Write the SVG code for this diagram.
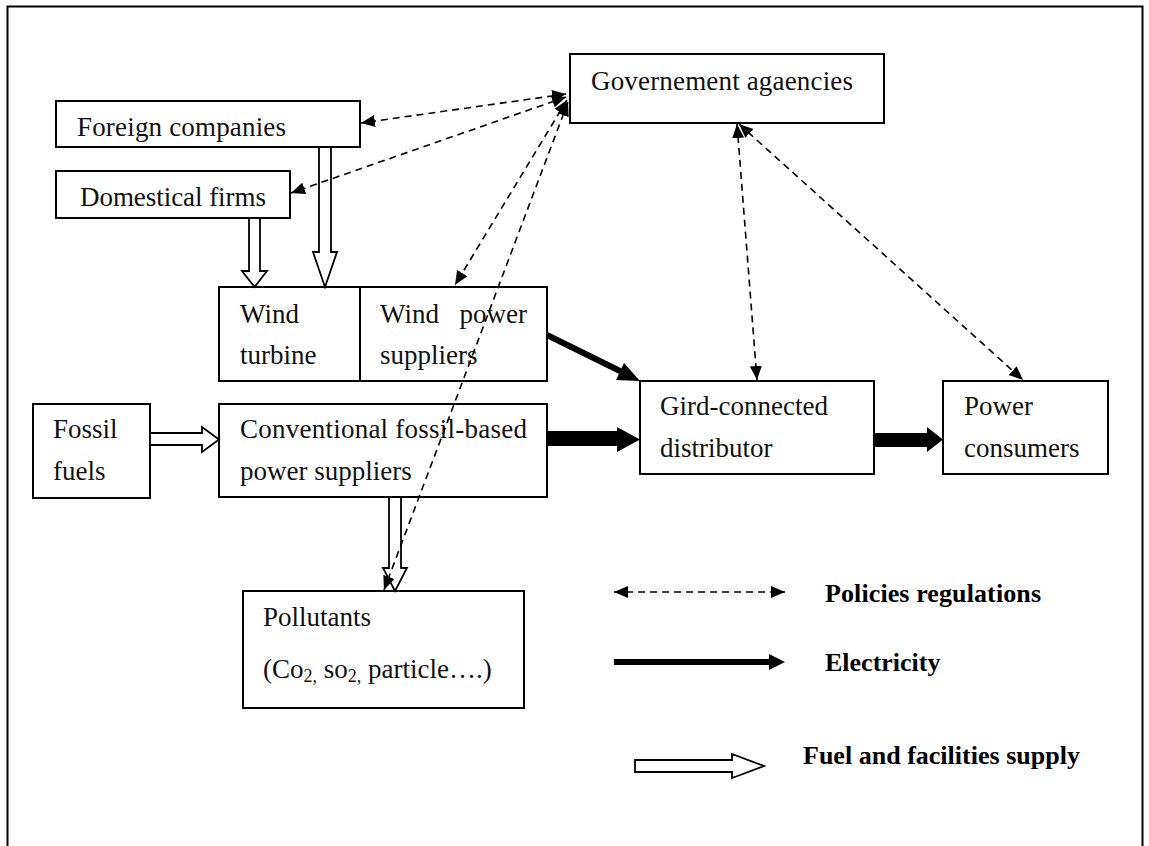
<svg xmlns="http://www.w3.org/2000/svg" width="1149" height="846" viewBox="0 0 1149 846">
  <style>
    .box { fill: #fff; stroke: #000; stroke-width: 2; }
    .lbl { font-family: "Liberation Serif", "Times New Roman", serif; font-size: 27px; fill: #111; }
    .key { font-family: "Liberation Serif", "Times New Roman", serif; font-size: 26px; font-weight: bold; fill: #000; }
    .policy { fill: none; stroke: #000; stroke-width: 1.6; stroke-dasharray: 7 5; }
    .supply { fill: #fff; stroke: #000; stroke-width: 1.8; stroke-linejoin: miter; }
    .power { fill: #000; stroke: none; }
    .sub { font-size: 18px; }
  </style>
  <defs>
    <marker id="tri" markerUnits="userSpaceOnUse" markerWidth="15" markerHeight="13" refX="14" refY="6" orient="auto-start-reverse">
      <path d="M0,0 L14,6 L0,12 z" fill="#000"/>
    </marker>
  </defs>

  <!-- page frame -->
  <rect x="7.5" y="6.5" width="1135" height="850" fill="#fff" stroke="#000" stroke-width="2"/>

  <!-- nodes -->
  <g id="government">
    <rect class="box" x="570" y="54" width="314" height="69"/>
    <text class="lbl" x="591" y="90" textLength="262">Governement agaencies</text>
  </g>
  <g id="foreign-companies">
    <rect class="box" x="56" y="101" width="304" height="46"/>
    <text class="lbl" x="77" y="136" textLength="209">Foreign companies</text>
  </g>
  <g id="domestical-firms">
    <rect class="box" x="56" y="171" width="234" height="47"/>
    <text class="lbl" x="80" y="206" textLength="186">Domestical firms</text>
  </g>
  <g id="wind-turbine">
    <rect class="box" x="219" y="287" width="141" height="94"/>
    <text class="lbl" x="240" y="323">Wind</text>
    <text class="lbl" x="240" y="364">turbine</text>
  </g>
  <g id="wind-power-suppliers">
    <rect class="box" x="360" y="287" width="187" height="94"/>
    <text class="lbl" x="380" y="323">Wind</text>
    <text class="lbl" x="527" y="323" text-anchor="end">power</text>
    <text class="lbl" x="380" y="364">suppliers</text>
  </g>
  <g id="fossil-fuels">
    <rect class="box" x="33" y="404" width="117" height="94"/>
    <text class="lbl" x="53" y="438">Fossil</text>
    <text class="lbl" x="53" y="480">fuels</text>
  </g>
  <g id="conventional-suppliers">
    <rect class="box" x="219" y="404" width="328" height="93"/>
    <text class="lbl" x="240" y="438" textLength="287" lengthAdjust="spacing">Conventional fossil-based</text>
    <text class="lbl" x="240" y="480">power suppliers</text>
  </g>
  <g id="grid-distributor">
    <rect class="box" x="640" y="381" width="234" height="93"/>
    <text class="lbl" x="660" y="415">Gird-connected</text>
    <text class="lbl" x="660" y="457">distributor</text>
  </g>
  <g id="power-consumers">
    <rect class="box" x="943" y="381" width="165" height="93"/>
    <text class="lbl" x="964" y="415">Power</text>
    <text class="lbl" x="964" y="457">consumers</text>
  </g>
  <g id="pollutants">
    <rect class="box" x="243" y="591" width="281" height="117"/>
    <text class="lbl" x="263" y="626">Pollutants</text>
    <text class="lbl" x="263" y="678">(Co<tspan class="sub" dy="4">2,</tspan><tspan dy="-4"> so</tspan><tspan class="sub" dy="4">2,</tspan><tspan dy="-4"> particle….)</tspan></text>
  </g>

  <!-- connectors -->
  <g id="connectors">
    <!-- fuel and facilities supply (hollow arrows) -->
    <polygon class="supply" points="319,147 331,147 331,252 337,252 325,287 313,252 319,252"/>
    <polygon class="supply" points="249,218 260,218 260,271 267,271 254.5,287 242,271 249,271"/>
    <polygon class="supply" points="150,433 202,433 202,427 219,439.5 202,452 202,445 150,445"/>
    <polygon class="supply" points="389,497 401,497 401,568 407,568 395,591 383,568 389,568"/>

    <!-- electricity -->
    <line x1="547" y1="335" x2="622" y2="372" stroke="#000" stroke-width="6"/>
    <polygon class="power" points="640,381 616,380 624,363"/>
    <polygon class="power" points="547,431 617,431 617,427 640,439.5 617,452 617,446 547,446"/>
    <polygon class="power" points="874,433 927,433 927,427 943,439.5 927,452 927,447 874,447"/>

    <!-- policies / regulations -->
    <line class="policy" x1="566" y1="94" x2="361" y2="123" marker-start="url(#tri)" marker-end="url(#tri)"/>
    <line class="policy" x1="566" y1="97" x2="291" y2="193" marker-start="url(#tri)" marker-end="url(#tri)"/>
    <line class="policy" x1="567" y1="100" x2="455" y2="285" marker-start="url(#tri)" marker-end="url(#tri)"/>
    <line class="policy" x1="568" y1="102" x2="384" y2="590" marker-start="url(#tri)" marker-end="url(#tri)"/>
    <line class="policy" x1="737" y1="124" x2="757" y2="380" marker-start="url(#tri)" marker-end="url(#tri)"/>
    <line class="policy" x1="739" y1="124" x2="1023" y2="380" marker-start="url(#tri)" marker-end="url(#tri)"/>
  </g>

  <!-- key -->
  <g id="legend">
    <line class="policy" x1="614" y1="592" x2="785" y2="592" marker-start="url(#tri)" marker-end="url(#tri)"/>
    <text class="key" x="825" y="602" textLength="216">Policies regulations</text>
    <line x1="614" y1="662" x2="770" y2="662" stroke="#000" stroke-width="6"/>
    <polygon class="power" points="769,654 785,662 769,670"/>
    <text class="key" x="825" y="671">Electricity</text>
    <polygon class="supply" points="635,760 732,760 732,754 764,766 732,778 732,772 635,772"/>
    <text class="key" x="803" y="764" textLength="277">Fuel and facilities supply</text>
  </g>
</svg>
